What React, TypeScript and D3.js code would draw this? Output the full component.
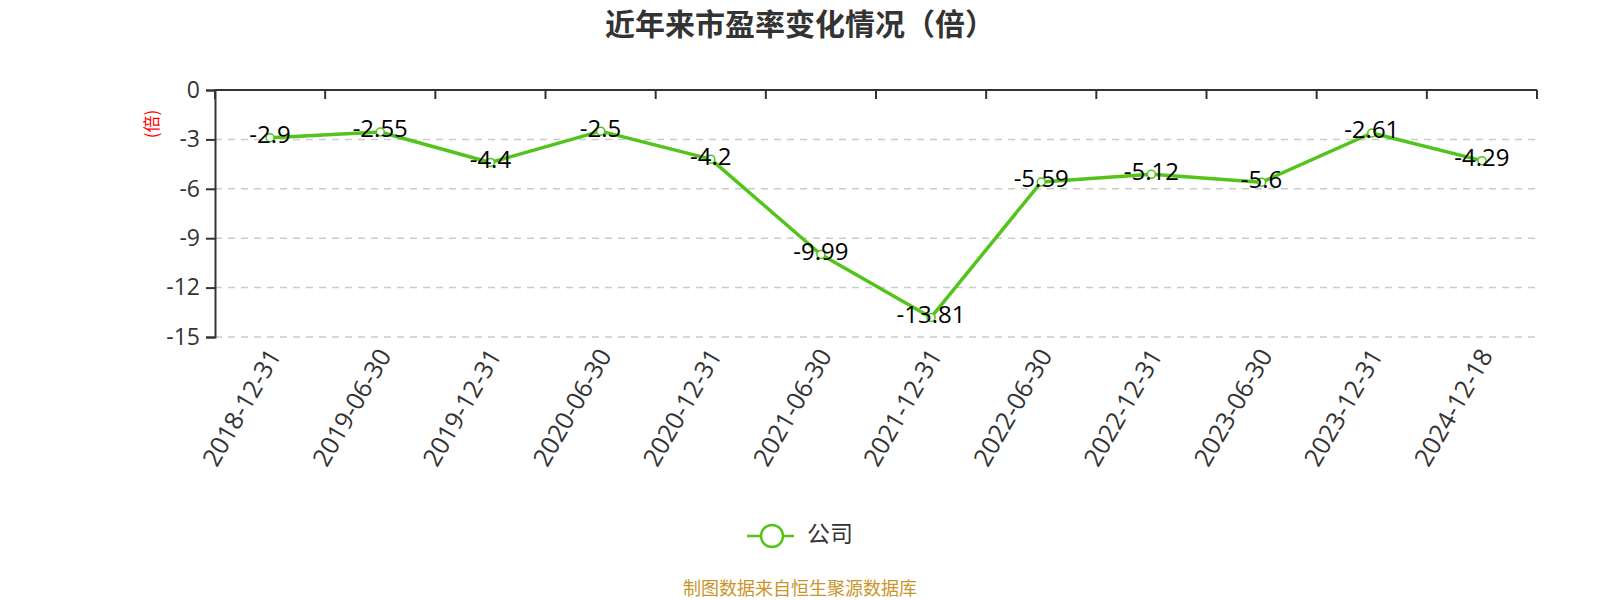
import React, { useEffect, useRef } from 'react';
import * as d3 from 'd3';

const dates = [
  '2018-12-31', '2019-06-30', '2019-12-31', '2020-06-30', '2020-12-31', '2021-06-30',
  '2021-12-31', '2022-06-30', '2022-12-31', '2023-06-30', '2023-12-31', '2024-12-18',
];
const peValues = [-2.9, -2.55, -4.4, -2.5, -4.2, -9.99, -13.81, -5.59, -5.12, -5.6, -2.61, -4.29];
const yTicks = [0, -3, -6, -9, -12, -15];

const seriesName = '公司';
const titleText = '近年来市盈率变化情况（倍）';
const sourceText = '制图数据来自恒生聚源数据库';

const App: React.FC = () => {
  const svgRef = useRef<SVGSVGElement | null>(null);

  useEffect(() => {
    if (!svgRef.current) return;
    const svg = d3.select(svgRef.current);
    svg.selectAll('*').remove();

    const width = 1600;
    const height = 600;
    const left = 215;
    const right = 1537;
    const top = 90;
    const bottom = 337;
    const green = '#52c41a';
    const font = '"Open Sans", "Noto Sans", "Noto Sans CJK SC", sans-serif';

    const x = d3.scaleBand<string>().domain(dates).range([left, right]);
    const y = d3.scaleLinear().domain([-15, 0]).range([bottom, top]);
    const cx = (d: string) => (x(d) || 0) + x.bandwidth() / 2;

    // Title
    svg.append('text')
      .attr('x', width / 2)
      .attr('y', 35)
      .attr('text-anchor', 'middle')
      .attr('font-family', '"Noto Sans CJK SC", sans-serif')
      .attr('font-weight', 'bold')
      .attr('font-size', 30)
      .attr('fill', '#333')
      .text(titleText);

    // Grid lines
    svg.append('g')
      .selectAll('line')
      .data(yTicks.filter((t) => t !== 0))
      .enter()
      .append('line')
      .attr('x1', left)
      .attr('x2', right)
      .attr('y1', (d) => y(d))
      .attr('y2', (d) => y(d))
      .attr('stroke', '#ccc')
      .attr('stroke-width', 1.5)
      .attr('stroke-dasharray', '7,6');

    // Y axis
    const yAxis = svg.append('g')
      .attr('transform', `translate(${left},0)`)
      .call(d3.axisLeft(y).tickValues(yTicks).tickSize(9).tickPadding(6).tickFormat(d3.format('d')));
    yAxis.select('.domain').attr('stroke', '#333').attr('stroke-width', 2);
    yAxis.selectAll('.tick line').attr('stroke', '#333').attr('stroke-width', 2);
    yAxis.selectAll('.tick text')
      .attr('font-family', font)
      .attr('font-size', 23)
      .attr('fill', '#333')
      .text((d: any) => String(d).replace('−', '-'));

    // Y axis name
    svg.append('text')
      .attr('transform', `translate(153,124) rotate(-90)`)
      .attr('text-anchor', 'middle')
      .attr('dominant-baseline', 'middle')
      .attr('font-family', '"Noto Sans CJK SC", sans-serif')
      .attr('font-size', 17)
      .attr('fill', 'red')
      .text('(倍)');

    // X axis line at zero with ticks between bands
    const xAxis = svg.append('g');
    xAxis.append('line')
      .attr('x1', left)
      .attr('x2', right)
      .attr('y1', y(0))
      .attr('y2', y(0))
      .attr('stroke', '#333')
      .attr('stroke-width', 2);
    const boundaries = dates.map((d) => x(d) || 0).concat([right]);
    xAxis.selectAll('line.tk')
      .data(boundaries)
      .enter()
      .append('line')
      .attr('class', 'tk')
      .attr('x1', (d) => d)
      .attr('x2', (d) => d)
      .attr('y1', y(0))
      .attr('y2', y(0) + 9)
      .attr('stroke', '#333')
      .attr('stroke-width', 2);

    // X labels at bottom, rotated
    svg.append('g')
      .selectAll('text')
      .data(dates)
      .enter()
      .append('text')
      .attr('transform', (d) => `translate(${cx(d) + 6},${bottom + 15}) rotate(-60)`)
      .attr('text-anchor', 'end')
      .attr('dominant-baseline', 'middle')
      .attr('font-family', font)
      .attr('font-size', 25)
      .attr('fill', '#333')
      .text((d) => d);

    // Line
    const line = d3.line<number>()
      .x((_, i) => cx(dates[i]))
      .y((d) => y(d));
    svg.append('path')
      .datum(peValues)
      .attr('fill', 'none')
      .attr('stroke', green)
      .attr('stroke-width', 3.5)
      .attr('stroke-linejoin', 'round')
      .attr('d', line);

    // Points
    svg.append('g')
      .selectAll('circle')
      .data(peValues)
      .enter()
      .append('circle')
      .attr('cx', (_, i) => cx(dates[i]))
      .attr('cy', (d) => y(d))
      .attr('r', 4)
      .attr('fill', '#fff')
      .attr('stroke', green)
      .attr('stroke-width', 1.5);

    // Data labels
    svg.append('g')
      .selectAll('text')
      .data(peValues)
      .enter()
      .append('text')
      .attr('x', (_, i) => cx(dates[i]))
      .attr('y', (d) => y(d) - 1)
      .attr('text-anchor', 'middle')
      .attr('dominant-baseline', 'middle')
      .attr('font-family', font)
      .attr('font-size', 24)
      .attr('fill', '#000')
      .text((d) => String(d));

    // Legend
    const lg = svg.append('g').attr('transform', 'translate(772,536)');
    lg.append('line')
      .attr('x1', -25)
      .attr('x2', 22)
      .attr('y1', 0)
      .attr('y2', 0)
      .attr('stroke', green)
      .attr('stroke-width', 2.5);
    lg.append('circle')
      .attr('r', 11)
      .attr('fill', '#fff')
      .attr('stroke', green)
      .attr('stroke-width', 2.5);
    lg.append('text')
      .attr('x', 35)
      .attr('y', 0)
      .attr('dominant-baseline', 'middle')
      .attr('font-family', '"Noto Sans CJK SC", sans-serif')
      .attr('font-size', 23)
      .attr('fill', '#333')
      .text(seriesName);

    // Source
    svg.append('text')
      .attr('x', width / 2)
      .attr('y', 590)
      .attr('text-anchor', 'middle')
      .attr('dominant-baseline', 'middle')
      .attr('font-family', '"Noto Sans CJK SC", sans-serif')
      .attr('font-size', 18)
      .attr('fill', '#c9952b')
      .text(sourceText);

    svg.attr('width', width).attr('height', height);
  }, []);

  return <svg ref={svgRef} width={1600} height={600} style={{ display: 'block', position: 'absolute', left: 0, top: 0 }} />;
};

export default App;
